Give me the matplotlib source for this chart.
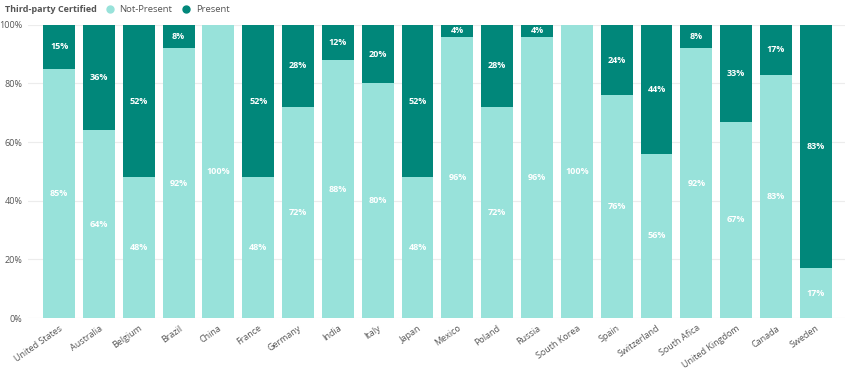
import matplotlib
matplotlib.use("Agg")
import matplotlib.pyplot as plt
import numpy as np
from matplotlib.lines import Line2D

plt.rcParams['font.family'] = ['Open Sans', 'DejaVu Sans']

countries = ['United States', 'Australia', 'Belgium', 'Brazil', 'China', 'France',
             'Germany', 'India', 'Italy', 'Japan', 'Mexico', 'Poland', 'Russia',
             'South Korea', 'Spain', 'Switzerland', 'South Afica', 'United Kingdom',
             'Canada', 'Sweden']
not_present = [85, 64, 48, 92, 100, 48, 72, 88, 80, 48, 96, 72, 96, 100, 76, 56, 92, 67, 83, 17]
present = [15, 36, 52, 8, 0, 52, 28, 12, 20, 52, 4, 28, 4, 0, 24, 44, 8, 33, 17, 83]

light = '#98e2da'
dark = '#01877a'

fig = plt.figure(figsize=(8.5, 3.76), dpi=100)
ax = fig.add_axes([0.033, 0.154, 0.961, 0.78])

x = np.arange(len(countries))
ax.bar(x, not_present, width=0.8, color=light, zorder=2)
ax.bar(x, present, width=0.8, bottom=not_present, color=dark, zorder=2)

# labels centred in each segment
for xi, np_v, p_v in zip(x, not_present, present):
    if np_v > 0:
        ax.text(xi, np_v / 2, f'{np_v}%', ha='center', va='center', color='white',
                fontsize=6.5, fontweight='bold', zorder=3)
    if p_v > 0:
        ax.text(xi, np_v + p_v / 2, f'{p_v}%', ha='center', va='center', color='white',
                fontsize=6.5, fontweight='bold', zorder=3)

ax.set_xlim(-0.78, 19.73)
ax.set_ylim(0, 100)
ax.set_yticks([0, 20, 40, 60, 80, 100])
ax.set_yticklabels([f'{v}%' for v in [0, 20, 40, 60, 80, 100]])
ax.yaxis.grid(True, color='#ececec', linewidth=0.8, zorder=0)
ax.set_xticks(x)
ax.set_xticklabels(countries, rotation=35, ha='right', rotation_mode='anchor')
ax.tick_params(axis='both', length=0, labelsize=6.5, labelcolor='#555555')
ax.tick_params(axis='x', pad=4)
ax.tick_params(axis='y', pad=4)
for s in ax.spines.values():
    s.set_visible(False)

# title + legend line on top
fig.text(0.006, 0.975, 'Third-party Certified', fontsize=6.5, fontweight='bold',
         color='#555555', ha='left', va='center')
handles = [Line2D([], [], marker='o', linestyle='none', markersize=5, color=light, label='Not-Present'),
           Line2D([], [], marker='o', linestyle='none', markersize=5, color=dark, label='Present')]
fig.legend(handles=handles, loc='center left', bbox_to_anchor=(0.118, 0.975), ncol=2,
           frameon=False, fontsize=6.8, handletextpad=0.0, columnspacing=0.5,
           labelcolor='#555555', borderaxespad=0, borderpad=0)

fig.savefig('out.png', dpi=100)
